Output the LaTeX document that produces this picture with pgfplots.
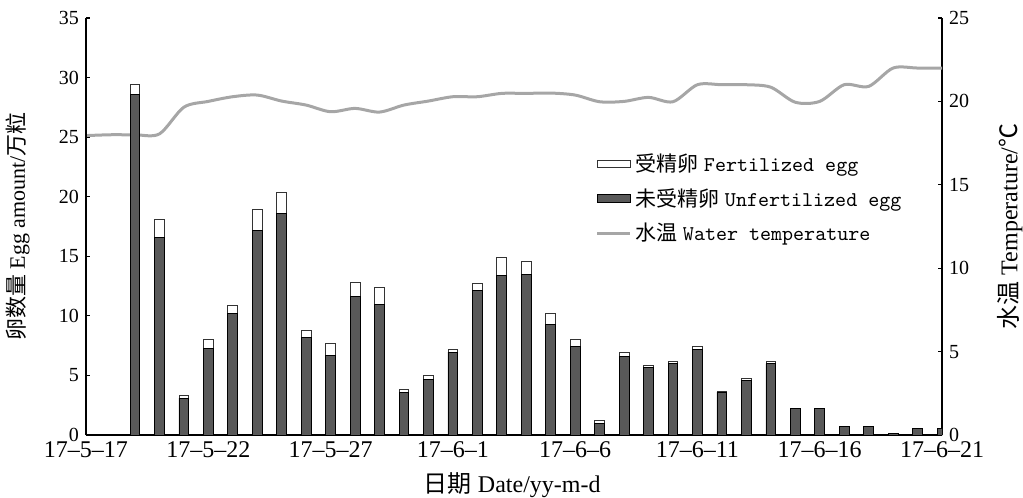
\documentclass[border=0pt]{standalone}
\usepackage{fontspec}
\setmainfont{Liberation Serif}
\newfontfamily\cjk{Noto Sans CJK SC}
\usepackage{pgfplots}
\pgfplotsset{compat=1.18}

\definecolor{barDark}{HTML}{595959}
\definecolor{lineGray}{HTML}{A6A6A6}

% day index 0 = 17-5-17
\pgfplotstableread{
d  unfert fert
2  28.60  0.80
3  16.60  1.50
4   3.10  0.20
5   7.30  0.75
6  10.20  0.70
7  17.15  1.75
8  18.60  1.80
9   8.15  0.60
10  6.70  0.95
11 11.65  1.20
12 10.95  1.40
13  3.55  0.30
14  4.70  0.30
15  6.95  0.20
16 12.10  0.65
17 13.40  1.50
18 13.45  1.10
19  9.30  0.90
20  7.45  0.60
21  0.95  0.25
22  6.60  0.35
23  5.65  0.15
24  6.00  0.15
25  7.15  0.30
26  3.60  0.10
27  4.55  0.20
28  6.00  0.20
29  2.25  0.00
30  2.25  0.00
31  0.70  0.00
32  0.70  0.00
33  0.12  0.00
34  0.55  0.00
35  0.55  0.00
}\eggs

\pgfplotstableread{
d  temp
0  17.95
1  18.00
2  18.00
3  18.05
4  19.65
5  20.00
6  20.28
7  20.38
8  20.02
9  19.78
10 19.38
11 19.58
12 19.36
13 19.78
14 20.02
15 20.28
16 20.28
17 20.48
18 20.48
19 20.50
20 20.38
21 19.98
22 20.00
23 20.24
24 19.98
25 21.00
26 21.00
27 21.00
28 20.85
29 19.95
30 20.00
31 21.00
32 20.90
33 22.00
34 22.00
35 22.00
}\temps

\pgfplotsset{
  common/.style={
    scale only axis, width=428pt, height=208.5pt,
    xmin=0, xmax=35,
    tick align=inside, major tick length=2pt,
    tick style={black, line width=0.6pt},
    axis line style={black, line width=0.9pt, -},
    /pgf/number format/assume math mode=true,
    y tick label style={font=\fontsize{10}{12}\selectfont},
  },
  boxlegend/.style={legend image code/.code={\draw[##1] (0pt,-1.9pt) rectangle (16.5pt,1.9pt);}},
  linelegend/.style={legend image code/.code={\draw[##1] (0pt,0pt) -- (16.5pt,0pt);}},
}

\begin{document}
\begin{tikzpicture}
% water temperature, right axis (drawn first so the bars sit above it)
\begin{axis}[common,
  ymin=0, ymax=25,
  axis y line*=right, axis x line=none,
  ytick={0,5,...,25},
  ylabel={{\cjk 水温} Temperature/{\cjk ℃}},
  every axis y label/.style={at={(axis description cs:1.0794,0.5)}, rotate=90, anchor=center,
    font=\fontsize{12}{14}\selectfont},
]
\addplot[lineGray, line width=1.5pt, smooth] table[x=d, y=temp] {\temps};
\end{axis}

% egg counts, left axis
\begin{axis}[common,
  ymin=0, ymax=35,
  axis x line*=bottom, axis y line*=left,
  ytick={0,5,...,35},
  xtick={0,5,...,35},
  xticklabels={17--5--17,17--5--22,17--5--27,17--6--1,17--6--6,17--6--11,17--6--16,17--6--21},
  x tick label style={font=\fontsize{12}{14}\selectfont},
  ybar stacked, bar width=0.4,
  xlabel={{\cjk 日期} Date/yy-m-d},
  every axis x label/.style={at={(axis description cs:0.498,-0.12)}, anchor=center,
    font=\fontsize{12}{14}\selectfont},
  ylabel={{\cjk 卵数量} Egg amount/{\cjk 万粒}},
  every axis y label/.style={at={(axis description cs:-0.0794,0.5)}, rotate=90, anchor=center,
    font=\fontsize{11}{13}\selectfont},
  legend style={draw=none, fill=none, at={(axis description cs:0.588,0.695)}, anchor=north west,
    font=\fontsize{10.5}{12}\selectfont, row sep=3pt},
  legend cell align=left,
]
\addplot[fill=barDark, draw=black, line width=0.4pt, forget plot] table[x=d, y=unfert] {\eggs};
\addplot[fill=white, draw=black!80, line width=0.4pt, forget plot] table[x=d, y=fert] {\eggs};
\addlegendimage{boxlegend, fill=white, draw=black!80, line width=0.5pt}
\addlegendentry{{\cjk 受精卵} {\ttfamily Fertilized egg}}
\addlegendimage{boxlegend, fill=barDark, draw=black, line width=0.5pt}
\addlegendentry{{\cjk 未受精卵} {\ttfamily Unfertilized egg}}
\addlegendimage{linelegend, draw=lineGray, line width=1.5pt}
\addlegendentry{{\cjk 水温} {\ttfamily Water temperature}}
\coordinate (bl) at (rel axis cs:0,0);
\coordinate (tr) at (rel axis cs:1,1);
\end{axis}
\pgfresetboundingbox
\path ([shift={(-43pt,-31.5pt)}]bl) rectangle ([shift={(40.5pt,9pt)}]tr);
\end{tikzpicture}
\end{document}
